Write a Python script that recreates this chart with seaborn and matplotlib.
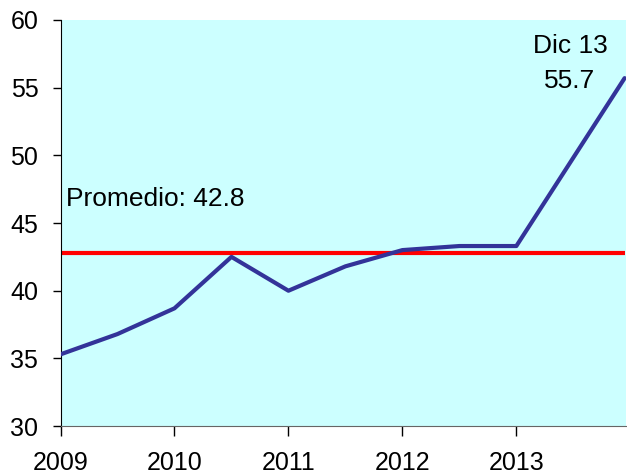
import pandas as pd
import seaborn as sns
import matplotlib.pyplot as plt

# Data (semiannual points, last one is Dec 13)
years = [2009.0, 2009.5, 2010.0, 2010.5, 2011.0, 2011.5, 2012.0, 2012.5, 2013.0, 2013.95]
values = [35.3, 36.8, 38.7, 42.5, 40.0, 41.8, 43.0, 43.3, 43.3, 55.7]
average = 42.8
year_ticks = [2009, 2010, 2011, 2012, 2013]
y_ticks = [30, 35, 40, 45, 50, 55, 60]

df = pd.DataFrame({'year': years, 'value': values})

sns.set_style('ticks')
plt.rcParams['font.family'] = ['Liberation Sans', 'DejaVu Sans']

fig, ax = plt.subplots(figsize=(6.27, 4.74), dpi=100)
fig.subplots_adjust(left=0.0965, right=0.998, top=0.958, bottom=0.101)
ax.set_facecolor('#CCFFFF')

# average line spans the data range
ax.hlines(average, years[0], years[-1], color='#FF0000', linewidth=3, zorder=2)
sns.lineplot(data=df, x='year', y='value', ax=ax, color='#333399', linewidth=3, zorder=3)

ax.set_xlim(2009, 2013.96)
ax.set_ylim(30, 60)
ax.set_xticks(year_ticks)
ax.set_xticklabels([str(y) for y in year_ticks])
ax.set_yticks(y_ticks)
ax.set_xlabel('')
ax.set_ylabel('')
ax.tick_params(axis='x', labelsize=18, length=7, width=1, pad=11, colors='black')
ax.tick_params(axis='y', labelsize=18, length=6, width=1, pad=10, colors='black')

for s in ['top', 'right']:
    ax.spines[s].set_visible(False)
ax.spines['left'].set_color('black')
ax.spines['bottom'].set_color('#666666')

ax.text(2009.05, 46.25, f'Promedio: {average}', fontsize=19, color='black',
        ha='left', va='baseline')
ax.text(2013.47, 57.55, 'Dic 13', fontsize=19, color='black', ha='center', va='baseline')
ax.text(2013.47, 54.98, f'{values[-1]}', fontsize=19, color='black', ha='center', va='baseline')

fig.savefig('out.png', dpi=100)
